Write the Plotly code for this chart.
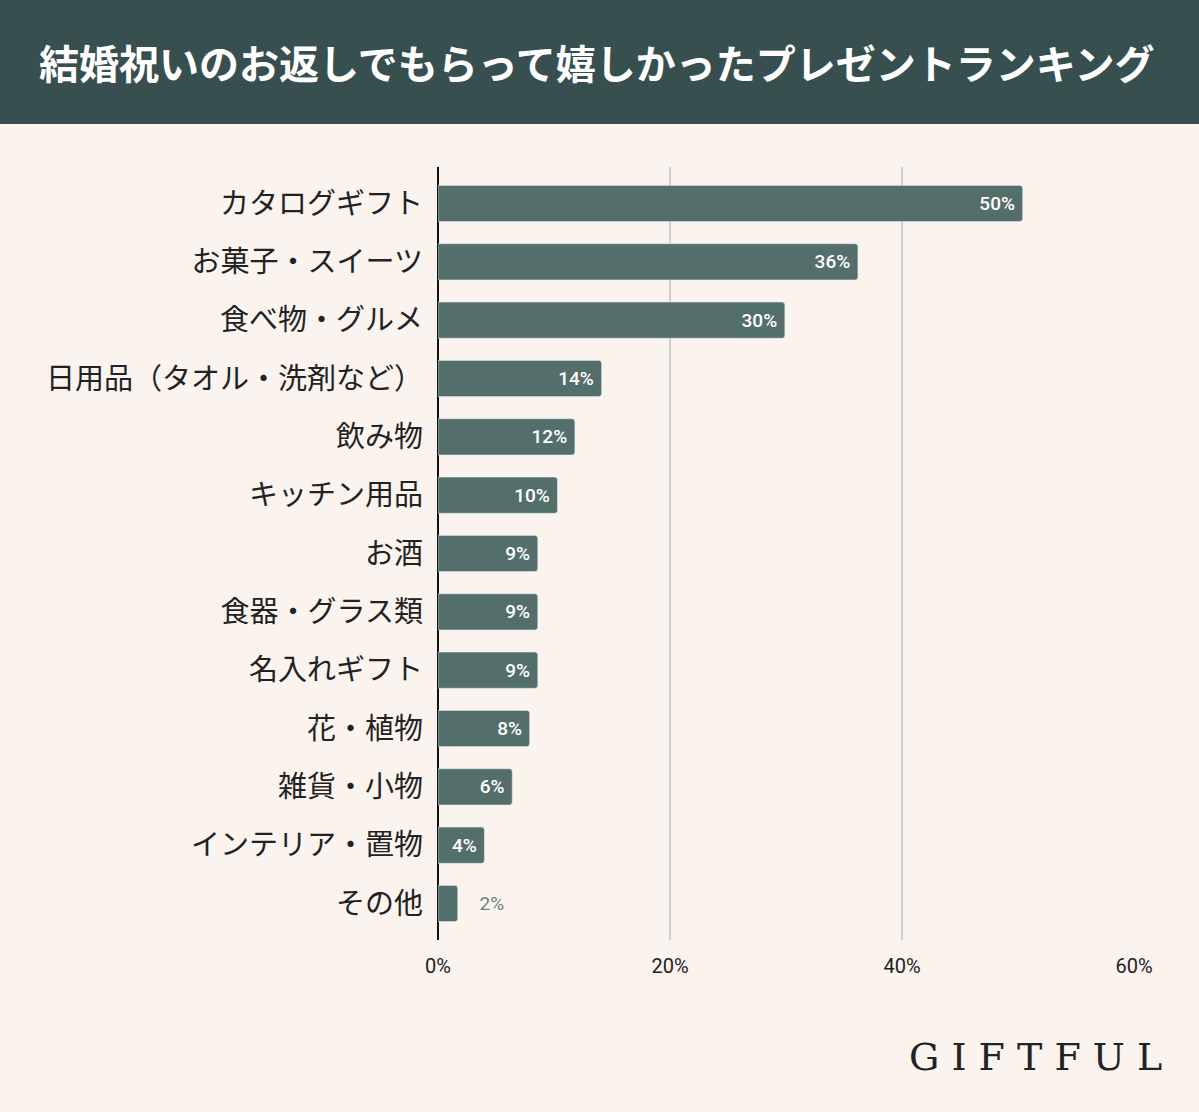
import plotly.graph_objects as go

categories = ["カタログギフト", "お菓子・スイーツ", "食べ物・グルメ", "日用品（タオル・洗剤など）",
              "飲み物", "キッチン用品", "お酒", "食器・グラス類", "名入れギフト", "花・植物",
              "雑貨・小物", "インテリア・置物", "その他"]
values = [50.4, 36.2, 29.9, 14.1, 11.8, 10.3, 8.6, 8.6, 8.6, 7.9, 6.4, 4.0, 1.7]
labels = ["50%", "36%", "30%", "14%", "12%", "10%", "9%", "9%", "9%", "8%", "6%", "4%", "2%"]
tick_vals = [0, 20, 40, 60]
tick_text = ["0%", "20%", "40%", "60%"]

W, H = 1199, 1112
L, R, T, B = 438, 65, 167, 172
PW, PH = W - L - R, H - T - B
BAR = "#546f6b"
BG = "#faf3ee"

NB = "\u00a0"
textpos = ["inside" if v >= 3 else "outside" for v in values]
shown = [(lab + NB) if v >= 3 else (NB * 4 + lab) for lab, v in zip(labels, values)]

fig = go.Figure(go.Bar(
    x=values, y=categories, orientation="h",
    marker=dict(color=BAR, cornerradius=3),
    width=0.62,
    text=shown, textposition=textpos, insidetextanchor="end",
    textangle=0,
    outsidetextfont=dict(family="Roboto, Noto Sans CJK JP", size=19, color="#6a8480", weight=400),
    insidetextfont=dict(family="Roboto, Noto Sans CJK JP", size=19, color="#ffffff", weight=500),
    cliponaxis=False,
))

fig.update_layout(
    width=W, height=H,
    paper_bgcolor=BG, plot_bgcolor=BG,
    margin=dict(l=L, r=R, t=T, b=B),
    showlegend=False,
    uniformtext=dict(minsize=19, mode="show"),
    font=dict(family="Noto Sans CJK JP", color="#222222"),
    xaxis=dict(range=[0, 60], tickvals=tick_vals, ticktext=tick_text,
               showgrid=True, gridcolor="#cfcfcf", gridwidth=1.5,
               zeroline=True, zerolinecolor="#111111", zerolinewidth=1.5,
               tickfont=dict(family="Roboto, Noto Sans CJK JP", size=20, color="#222222"),
               ticks="", ticklabelstandoff=12, fixedrange=True),
    yaxis=dict(categoryorder="array", categoryarray=categories,
               autorange=False, range=[12.625, -0.625],
               tickfont=dict(family="Noto Sans CJK JP", size=29, color="#222222"),
               ticks="", ticklabelstandoff=14, showgrid=False),
    shapes=[dict(type="rect", xref="paper", yref="paper", x0=-L / PW, x1=1 + R / PW,
                 y0=1 + (T - 124) / PH, y1=1 + T / PH,
                 fillcolor="#37504f", line=dict(width=0), layer="below")],
    annotations=[
        dict(text="<b>結婚祝いのお返しでもらって嬉しかったプレゼントランキング</b>",
             xref="paper", yref="paper", x=(597 - L) / PW, y=1 + (T - 62) / PH,
             xanchor="center", yanchor="middle", showarrow=False,
             font=dict(family="Noto Sans CJK JP", size=40, color="#ffffff")),
        dict(text="G I F T F U L",
             xref="paper", yref="paper", x=(1164 - L) / PW, y=-(1057 - (T + PH)) / PH,
             xanchor="right", yanchor="middle", showarrow=False,
             font=dict(family="DejaVu Serif", size=38, color="#222222", weight=300)),
    ],
)

fig.write_html("out.html", config={"displayModeBar": False},
               post_script="document.body.style.margin='0';document.body.style.padding='0';")
